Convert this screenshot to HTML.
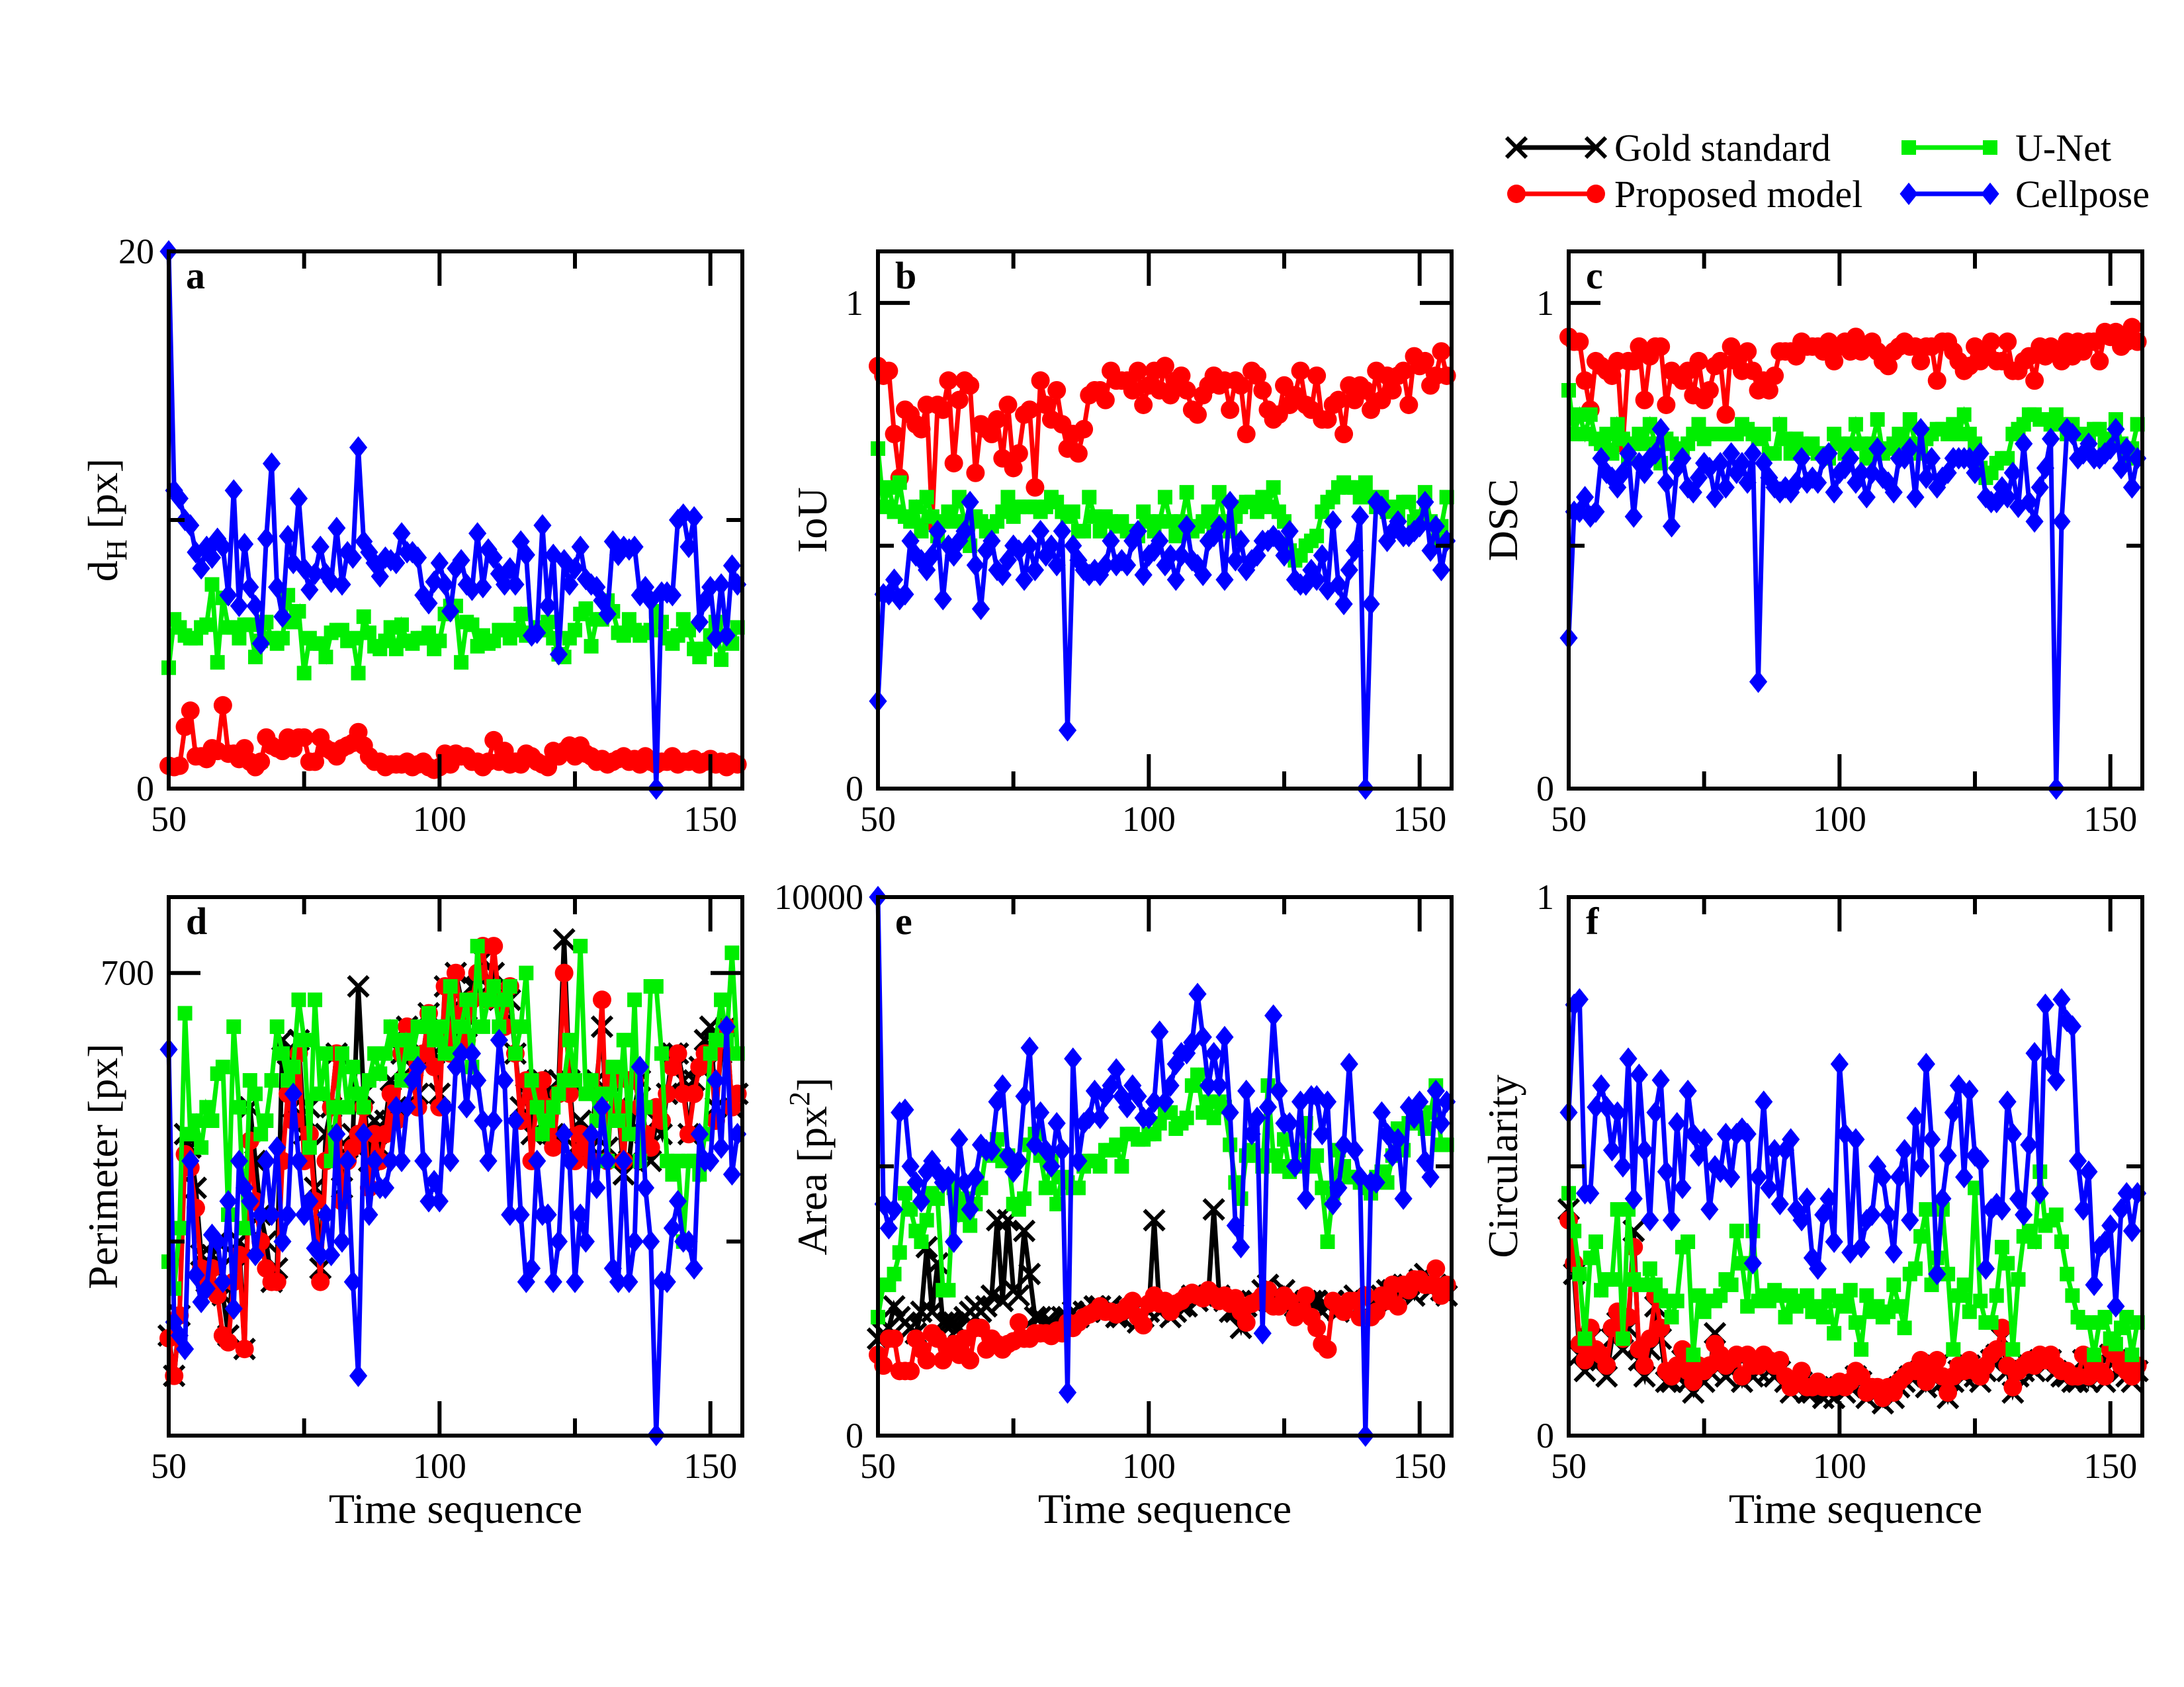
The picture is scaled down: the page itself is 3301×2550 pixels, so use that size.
<!DOCTYPE html>
<html><head><meta charset="utf-8"><style>
html,body{margin:0;padding:0;background:#fff}
svg{display:block}
text{font-family:"Liberation Serif",serif;fill:#000}
</style></head><body>
<svg id="fig" xmlns="http://www.w3.org/2000/svg" width="3301" height="2550" viewBox="0 0 3301 2550">
<rect x="0" y="0" width="3301" height="2550" fill="#fff"/>
<g id="legend"></g>
<g id="panels"></g>
</svg>
<script>
const startT = 50;
const seriesColors = {gold:'#000000', prop:'#ff0000', unet:'#00ee00', cell:'#0000ff'};

const aCell = [20,11.1,10.8,10,9.8,8.8,8.2,9,8.6,9.3, 9,7.2,11.1,6.8,9.1,7.5,6.8,5.4,9.3,12.1, 7.5,6.4,9.4,8.4,10.8,8.2,7.4,8,9,8, 7.7,9.7,7.6,8.8,8.6,12.7,9.2,8.8,8.4,7.9, 8.6,8.5,8.4,9.5,8.8,8.8,8.6,7.2,6.9,7.7, 8.4,7.6,6.6,8.2,8.5,7.6,7.4,9.5,7.5,8.9, 8.6,8,7.6,8.2,7.6,9.2,8.7,5.7,5.8,9.8, 6.8,8.7,5,8.5,7.6,8.2,9,7.8,7.6,7.5, 7,6.5,9.2,8.7,9,8.9,9,7.2,7.5,7, 0,7.3,7.3,7.2,10,10.2,9,10.1,6.2,7, 7.5,5.6,7.6,5.7,8.3,7.6];
const aUnet = [4.5,6.3,6,5.7,5.6,5.6,6,6.1,7.6,4.7, 7.1,6,6,5.6,6.1,6.1,4.9,5.5,6.2,5.6, 5.4,5.6,7.2,6.2,6.6,4.3,5.6,5.4,5.4,4.9, 5.8,5.9,5.9,5.5,5.6,4.3,6.4,5.8,5.3,5.2, 5.5,6,5.2,6.1,5.5,5.4,5.6,5.6,5.8,5.2, 5.5,6.5,6.8,6.8,4.7,6.2,6.1,5.3,5.7,5.4, 5.5,5.9,5.9,5.6,5.9,6.5,5.7,5.8,6,5.9, 6.2,5.6,5,4.9,5.6,5.9,6.5,6.7,5.3,6.3, 6.3,7,6.6,5.8,5.7,6.3,5.9,5.7,5.8,5.9, 6.6,6.2,5.6,5.4,5.7,6.3,5.9,5.2,4.9,5.2, 5.7,6.2,4.8,5.7,5.4,6];
const aProp = [0.85,0.8,0.85,2.3,2.9,1.2,1.2,1.1,1.5,1.4, 3.1,1.3,1.3,1.1,1.5,1,0.8,1,1.9,1.6, 1.5,1.4,1.9,1.5,1.9,1.9,1,1,1.9,1.5, 1.4,1.2,1.5,1.6,1.7,2.1,1.6,1.2,1,1, 0.8,0.9,0.9,0.9,1,0.8,0.9,1,0.8,0.7, 0.8,1.3,0.9,1.3,1.2,1.2,1,1,0.8,1, 1.8,1,1.4,0.9,1,0.9,1.3,1.2,1,0.9, 0.8,1.4,1.2,1.4,1.6,1.2,1.6,1.3,1.2,1, 1.1,0.9,1,1.1,1.2,1,1.1,0.9,1.2,1, 0.9,1,1,1.2,0.9,1,1,1.1,0.9,1, 1.1,0.9,1,0.8,1,0.9];

const bProp = [.87,.85,.86,.73,.64,.78,.77,.75,.74,.79, .55,.79,.78,.84,.67,.80,.84,.83,.65,.75, .74,.73,.76,.68,.79,.66,.69,.77,.78,.62, .84,.79,.76,.82,.75,.70,.73,.69,.74,.81, .82,.82,.80,.86,.84,.84,.84,.82,.86,.79, .83,.86,.82,.87,.81,.84,.85,.82,.78,.77, .81,.83,.85,.83,.84,.78,.84,.83,.73,.86, .85,.82,.78,.76,.77,.83,.79,.81,.86,.79, .78,.85,.76,.76,.79,.80,.73,.83,.80,.83, .82,.78,.86,.80,.85,.82,.85,.86,.79,.89, .87,.88,.83,.85,.90,.85];
const bUnet = [.70,.58,.62,.57,.63,.56,.55,.58,.53,.60, .56,.52,.55,.57,.55,.60,.55,.50,.56,.55, .53,.54,.55,.57,.60,.56,.58,.58,.58,.58, .57,.58,.60,.59,.57,.56,.57,.53,.53,.60, .56,.53,.56,.55,.54,.55,.53,.53,.52,.57, .55,.53,.55,.60,.55,.52,.55,.61,.53,.54, .55,.57,.54,.61,.55,.53,.56,.58,.59,.59, .57,.60,.58,.62,.57,.55,.49,.47,.48,.50, .51,.52,.57,.59,.60,.62,.63,.62,.62,.60, .63,.60,.58,.60,.57,.58,.57,.59,.59,.55, .56,.61,.55,.51,.54,.60];
const bCell = [.18,.40,.40,.43,.39,.40,.51,.48,.47,.45, .48,.53,.39,.50,.48,.51,.53,.59,.46,.37, .49,.51,.45,.44,.47,.50,.49,.43,.50,.45, .53,.48,.50,.46,.53,.12,.50,.47,.45,.44, .45,.44,.46,.51,.46,.47,.46,.51,.53,.44, .48,.49,.51,.46,.48,.43,.48,.54,.47,.46, .44,.51,.52,.54,.43,.59,.47,.51,.45,.47, .48,.51,.51,.52,.51,.48,.53,.43,.42,.42, .45,.43,.48,.41,.55,.42,.38,.45,.49,.56, 0,.38,.59,.58,.51,.53,.55,.52,.52,.53, .54,.59,.49,.54,.45,.51];

const cProp = [.93,.92,.92,.84,.78,.88,.87,.86,.85,.88, .71,.88,.88,.91,.80,.89,.91,.91,.79,.86, .85,.84,.86,.81,.88,.80,.82,.87,.88,.77, .91,.88,.86,.90,.86,.82,.84,.82,.85,.90, .90,.90,.89,.92,.91,.91,.91,.90,.92,.88, .91,.92,.90,.93,.90,.91,.92,.90,.88,.87, .90,.91,.92,.91,.91,.88,.91,.91,.84,.92, .92,.90,.88,.86,.87,.91,.88,.90,.92,.88, .88,.92,.86,.86,.88,.89,.84,.91,.89,.91, .90,.88,.92,.89,.92,.90,.92,.92,.88,.94, .93,.94,.91,.92,.95,.92];
const cUnet = [.82,.73,.77,.73,.77,.72,.71,.73,.69,.75, .72,.68,.71,.73,.71,.75,.71,.67,.72,.71, .69,.70,.71,.73,.75,.72,.73,.73,.73,.73, .73,.73,.75,.74,.73,.72,.73,.69,.69,.75, .72,.69,.72,.71,.70,.71,.69,.69,.68,.73, .71,.69,.71,.75,.71,.68,.71,.76,.69,.70, .71,.73,.70,.76,.71,.69,.72,.73,.74,.74, .73,.75,.73,.77,.73,.71,.66,.64,.65,.67, .68,.68,.73,.74,.75,.77,.77,.76,.76,.75, .77,.75,.73,.75,.73,.73,.73,.74,.74,.71, .72,.76,.71,.68,.70,.75];
const cCell = [.31,.57,.57,.60,.56,.57,.68,.65,.64,.62, .65,.69,.56,.67,.65,.68,.69,.74,.63,.54, .66,.68,.62,.61,.64,.67,.66,.60,.67,.62, .69,.65,.67,.63,.69,.22,.67,.64,.62,.61, .62,.61,.63,.68,.63,.64,.63,.68,.69,.61, .65,.66,.68,.63,.65,.60,.65,.70,.64,.63, .61,.68,.68,.70,.60,.74,.64,.68,.62,.64, .65,.68,.68,.68,.68,.65,.69,.60,.59,.59, .62,.60,.65,.58,.71,.59,.55,.62,.66,.72, 0,.55,.74,.73,.68,.69,.71,.68,.68,.69, .70,.74,.66,.70,.62,.68];

const dGold = [430,400,445,580,570,540,490,470,490,500, 460,430,490,500,420,600,560,520,500,470, 480,650,640,600,650,580,600,540,480,580, 600,640,540,570,580,690,610,560,590,570, 590,620,600,640,660,630,610,640,670,640, 610,690,650,700,680,660,690,690,710,690, 700,680,670,680,640,600,610,580,620,620, 610,580,620,725,620,570,590,570,570,620, 660,570,610,600,550,560,600,620,580,560, 590,580,610,640,640,620,580,620,630,650, 660,600,640,660,600,610];
const dProp = [428,400,445,565,555,525,480,470,480,460, 430,425,470,490,420,575,530,500,480,470, 470,560,610,590,640,560,580,530,470,560, 600,640,530,560,570,580,600,540,580,560, 580,610,590,640,660,620,600,640,670,630, 600,690,640,700,670,650,680,700,720,680, 720,680,660,690,640,590,620,560,610,620, 600,570,610,700,610,560,580,570,560,610, 680,560,620,600,560,620,620,600,580,570, 600,590,610,630,640,610,580,610,630,640, 640,590,650,660,600,610];
const dUnet = [485,465,510,670,580,590,570,600,590,625, 630,520,660,600,510,620,610,580,590,620, 660,640,620,630,680,650,570,680,610,640, 560,600,640,600,630,610,600,620,640,625, 640,660,650,620,650,640,660,660,670,650, 660,640,690,640,660,680,630,720,660,680, 690,660,680,690,640,660,700,620,600,580, 590,600,610,620,650,620,720,610,620,590, 610,560,630,590,650,580,680,560,600,690, 690,640,560,550,560,500,560,560,550,580, 640,650,680,650,715,640];
const dCell = [643,440,430,420,560,475,455,465,505,500, 470,530,450,560,540,530,490,520,560,520, 570,500,520,610,560,520,530,495,490,520, 490,580,500,560,470,400,580,520,560,540, 540,560,600,560,600,620,630,560,530,545, 530,600,560,630,640,600,640,620,590,560, 590,650,620,520,590,520,470,480,560,520, 520,470,500,580,560,470,520,500,580,540, 600,560,480,470,560,470,500,630,540,500, 356,470,470,510,530,500,500,480,580,560, 560,620,570,660,550,580];

const eGold = [1800,1900,2000,2400,2200,2100,2000,1900,2300,3500, 2300,3200,2100,2100,2100,2000,2200,2300,2400,2300, 2400,2600,4000,2500,4000,2700,2600,3800,3000,2200, 2200,2100,2100,2000,2200,2200,2300,2200,2300,2300, 2400,2400,2300,2400,2200,2200,2300,2300,2100,2200, 2300,4000,2300,2400,2200,2300,2400,2400,2600,2500, 2600,2600,4200,2600,2500,2300,2300,2000,2400,2500, 2500,2700,2800,2600,2500,2700,2500,2400,2400,2500, 2500,2500,2300,2400,2500,2300,2400,2500,2600,2400, 2500,2400,2500,2600,2700,2700,2700,2800,2800,2600, 2900,3000,2700,2800,2700,2600];
const eProp = [1500,1300,1800,1800,1200,1200,1200,1800,1600,1400, 1900,1800,1400,1600,1700,1500,1800,1400,2000,2000, 1600,1800,1700,1600,1700,1750,2100,1800,1800,1900, 1900,1900,1850,1950,1900,2100,2000,2100,2200,2250, 2300,2400,2300,2300,2250,2300,2400,2500,2200,2050, 2450,2600,2450,2500,2300,2450,2500,2600,2650,2600, 2550,2700,2600,2500,2600,2450,2550,2300,2100,2450, 2500,2600,2700,2400,2400,2600,2500,2200,2300,2600, 2200,2000,1700,1600,2500,2400,2300,2500,2500,2200, 2600,2200,2300,2600,2500,2800,2400,2800,2700,2900, 2900,2800,2800,3100,2600,2800];
const eUnet = [2200,2800,2800,3000,3400,4500,4200,3800,3600,4000, 4500,4400,2700,2700,4600,4100,4400,3900,4300,4600, 5300,5200,5500,5100,5200,4300,4200,4400,5400,5600, 5200,4600,5100,4300,4800,4700,4600,4600,5000,5100, 5100,5000,5300,5300,5400,5000,5600,5600,5500,5500, 5600,5600,5800,6000,6000,5700,5800,5900,6500,6700, 6000,6200,5900,6200,6100,5400,4700,4400,5200,5300, 5200,5000,6500,5200,5000,5500,4900,5000,5300,5800, 5000,5200,4600,3600,4500,5300,5000,4800,4800,4700, 4600,4500,4800,4900,4700,5200,5700,5300,5800,5800, 5900,5700,6000,6500,5400,5400];
const eCell = [10000,4300,3850,4200,6000,6050,5000,4700,4350,4900, 5100,4900,4700,4800,3600,5500,4700,4200,4800,5400, 5300,5300,6200,6500,5200,4900,5100,6300,7200,5400, 6000,5300,5000,5800,5300,800,7000,5100,5800,5900, 6400,5900,6300,6500,6800,6300,6100,6500,6300,5900, 5900,6200,7500,6200,6500,6900,7100,7100,7300,8200, 7400,6500,7100,6500,7400,6000,3900,3500,6400,5600, 5900,1900,6100,7800,6400,5800,5800,5000,6200,4400, 6300,6300,5600,6200,4300,4600,5400,6900,5300,4800, 0,4700,4700,6000,5600,5200,5500,4400,6100,5900, 6200,5100,4800,6400,5800,6200];

const fGold = [.42,.30,.15,.12,.18,.14,.14,.11,.18,.21, .16,.20,.38,.14,.11,.16,.24,.18,.10,.10, .11,.14,.10,.08,.11,.10,.12,.19,.13,.11, .12,.13,.10,.13,.11,.12,.13,.12,.11,.12, .10,.08,.09,.10,.08,.08,.09,.07,.08,.07, .09,.08,.09,.11,.10,.07,.08,.08,.06,.08, .07,.09,.10,.11,.11,.12,.09,.11,.13,.10, .07,.10,.12,.11,.13,.11,.10,.12,.14,.15, .18,.12,.08,.11,.12,.13,.12,.14,.13,.14, .12,.11,.11,.10,.10,.14,.10,.13,.11,.10, .15,.14,.12,.11,.10,.12];
const fProp = [.40,.32,.17,.14,.20,.16,.15,.13,.20,.23, .18,.22,.35,.16,.13,.18,.26,.20,.12,.11, .13,.16,.12,.10,.13,.12,.13,.17,.15,.13, .14,.15,.11,.15,.13,.13,.15,.14,.13,.14, .11,.09,.10,.12,.09,.09,.10,.09,.09,.09, .10,.09,.10,.12,.11,.08,.09,.09,.07,.09, .08,.10,.11,.12,.12,.14,.10,.12,.14,.11, .08,.11,.13,.12,.14,.12,.11,.13,.15,.16, .20,.13,.09,.12,.13,.14,.13,.15,.14,.15, .13,.12,.12,.11,.11,.15,.11,.14,.12,.11, .16,.15,.13,.12,.11,.13];
const fUnet = [.45,.38,.30,.18,.33,.36,.27,.29,.29,.42, .18,.42,.29,.28,.28,.31,.28,.26,.25,.22, .25,.35,.36,.15,.26,.23,.25,.25,.26,.29, .28,.38,.32,.24,.38,.25,.26,.25,.27,.26, .22,.26,.24,.25,.26,.23,.24,.22,.26,.19, .25,.24,.27,.21,.16,.26,.23,.24,.22,.23, .28,.24,.20,.30,.31,.37,.42,.28,.33,.42, .30,.16,.26,.28,.23,.46,.25,.21,.21,.26, .35,.32,.16,.29,.37,.38,.36,.49,.39,.40, .41,.36,.30,.26,.22,.21,.21,.15,.21,.22, .18,.17,.20,.22,.15,.21];
const fCell = [.60,.80,.81,.45,.45,.61,.65,.61,.53,.60, .50,.70,.44,.67,.53,.40,.60,.66,.49,.40, .58,.46,.64,.56,.52,.55,.42,.50,.49,.56, .48,.56,.57,.56,.32,.48,.62,.46,.53,.43, .53,.55,.42,.40,.44,.33,.31,.41,.44,.36, .69,.56,.34,.55,.35,.40,.41,.50,.48,.41, .34,.48,.53,.40,.59,.50,.69,.55,.30,.44, .52,.60,.65,.48,.64,.52,.51,.31,.42,.43, .42,.62,.56,.44,.41,.54,.71,.45,.80,.69, .66,.81,.77,.76,.51,.42,.49,.28,.35,.36, .39,.24,.42,.45,.38,.45];

const xTickMajor = [50,100,150];
const xTickMinor = [75,125];

const NS = 'http://www.w3.org/2000/svg';
function mk(tag, attrs, parent){const e=document.createElementNS(NS,tag);for(const k in attrs)e.setAttribute(k,attrs[k]);if(parent)parent.appendChild(e);return e;}

const PW = 867;
const R0 = 380, H0 = 812, R1 = 1356, H1 = 814;
const panels = [
 {id:'a', x0:255, y0:R0, h:H0, ymin:0, ymax:20, yMajor:[0,20], yMinor:[10], yLabels:['0','20'], ylabel:'dH', series:[['unet',aUnet],['prop',aProp],['cell',aCell]]},
 {id:'b', x0:1327, y0:R0, h:H0, ymin:0, ymax:1.106, yMajor:[0,1], yMinor:[0.5], yLabels:['0','1'], ylabel:'IoU', series:[['prop',bProp],['unet',bUnet],['cell',bCell]]},
 {id:'c', x0:2371, y0:R0, h:H0, ymin:0, ymax:1.106, yMajor:[0,1], yMinor:[0.5], yLabels:['0','1'], ylabel:'DSC', series:[['prop',cProp],['unet',cUnet],['cell',cCell]]},
 {id:'d', x0:255, y0:R1, h:H1, ymin:355.5, ymax:756.5, yMajor:[700], yMinor:[500], yLabels:['700'], ylabel:'Perimeter [px]', series:[['gold',dGold],['prop',dProp],['unet',dUnet],['cell',dCell]]},
 {id:'e', x0:1327, y0:R1, h:H1, ymin:0, ymax:10000, yMajor:[0,10000], yMinor:[5000], yLabels:['0','10000'], ylabel:'Area', series:[['gold',eGold],['prop',eProp],['unet',eUnet],['cell',eCell]]},
 {id:'f', x0:2371, y0:R1, h:H1, ymin:0, ymax:1, yMajor:[0,1], yMinor:[0.5], yLabels:['0','1'], ylabel:'Circularity', series:[['gold',fGold],['prop',fProp],['unet',fUnet],['cell',fCell]]}
];
const seriesNames = {gold:'gold-standard',prop:'proposed-model',unet:'u-net',cell:'cellpose'};

function marker(kind, x, y, g){
  const c = seriesColors[kind];
  if(kind==='gold'){const s=15;mk('path',{d:`M${x-s},${y-s}L${x+s},${y+s}M${x-s},${y+s}L${x+s},${y-s}`,stroke:c,'stroke-width':6,fill:'none'},g);}
  else if(kind==='prop'){mk('circle',{cx:x,cy:y,r:14,fill:c},g);}
  else if(kind==='unet'){mk('rect',{x:x-11,y:y-11,width:22,height:22,fill:c},g);}
  else {const s=17;mk('path',{d:`M${x},${y-s}L${x+s*0.8},${y}L${x},${y+s}L${x-s*0.8},${y}Z`,fill:c},g);}
}

const root = document.getElementById('panels');
panels.forEach(p=>{
  const g = mk('g',{},root);
  
  
  const xs = t => p.x0 + (t-startT)*(PW/(155.9-50));
  const ys = v => p.y0 + p.h - (v-p.ymin)/(p.ymax-p.ymin)*p.h;
  const bottom = p.y0+p.h, right = p.x0+PW;
  p.series.forEach(([kind,vals])=>{
    const sg = mk('g',{},g);
    
    
    const pts = vals.map((v,i)=>xs(startT+i).toFixed(1)+','+ys(v).toFixed(1)).join(' ');
    mk('polyline',{points:pts,fill:'none',stroke:seriesColors[kind],'stroke-width':7,'stroke-linejoin':'miter'},sg);
    vals.forEach((v,i)=>marker(kind,xs(startT+i),ys(v),sg));
  });
  const fr = mk('rect',{x:p.x0,y:p.y0,width:PW,height:p.h,fill:'none',stroke:'#000','stroke-width':6},g);
  
  
  const tg = mk('g',{stroke:'#000','stroke-width':6},g);
  xTickMajor.forEach(t=>{const x=xs(t);mk('line',{x1:x,y1:bottom,x2:x,y2:bottom-52},tg);mk('line',{x1:x,y1:p.y0,x2:x,y2:p.y0+52},tg);});
  xTickMinor.forEach(t=>{const x=xs(t);mk('line',{x1:x,y1:bottom,x2:x,y2:bottom-26},tg);mk('line',{x1:x,y1:p.y0,x2:x,y2:p.y0+26},tg);});
  p.yMajor.forEach(v=>{const y=ys(v);mk('line',{x1:p.x0,y1:y,x2:p.x0+48,y2:y},tg);mk('line',{x1:right,y1:y,x2:right-48,y2:y},tg);});
  p.yMinor.forEach(v=>{const y=ys(v);mk('line',{x1:p.x0,y1:y,x2:p.x0+24,y2:y},tg);mk('line',{x1:right,y1:y,x2:right-24,y2:y},tg);});
  xTickMajor.forEach(t=>{
    const tx = mk('text',{x:xs(t),y:bottom+64,'font-size':54,'text-anchor':'middle'},g);
    tx.textContent = String(t);
    
    
  });
  p.yMajor.forEach((v,i)=>{
    const ty = mk('text',{x:p.x0-22,y:ys(v)+18,'font-size':54,'text-anchor':'end'},g);
    ty.textContent = p.yLabels[i];
    
    
  });
  const pl = mk('text',{x:p.x0+26,y:p.y0+56,'font-size':58,'font-weight':'bold'},g);
  pl.textContent = p.id;
  
  
  const cy = p.y0 + p.h/2;
  const cx = p.x0 - 78;
  const yt = mk('text',{x:cx,y:cy,'font-size':64,'text-anchor':'middle',transform:`rotate(-90 ${cx} ${cy})`},g);
  
  
  if(p.ylabel==='dH'){
    yt.appendChild(document.createTextNode('d'));
    const s=mk('tspan',{'font-size':44,dy:14},yt);s.textContent='H';
    const r=mk('tspan',{dy:-14},yt);r.textContent=' [px]';
  } else if(p.ylabel==='Area'){
    yt.appendChild(document.createTextNode('Area [px'));
    const s=mk('tspan',{'font-size':44,dy:-26},yt);s.textContent='2';
    const r=mk('tspan',{dy:26},yt);r.textContent=']';
  } else yt.textContent = p.ylabel;
  if(p.y0>1000){
    const xt = mk('text',{x:p.x0+PW/2,y:2302,'font-size':64,'text-anchor':'middle'},g);
    xt.textContent='Time sequence';
    
    
  }
});

const lg = document.getElementById('legend');
const legendItems = [['gold','Gold standard',2292,2412,223,2440],['prop','Proposed model',2292,2412,293,2440],['unet','U-Net',2885,3008,223,3046],['cell','Cellpose',2885,3008,293,3046]];
legendItems.forEach(([kind,label,x1,x2,y,tx])=>{
  const eg = mk('g',{},lg);
  
  
  mk('line',{x1:x1,y1:y,x2:x2,y2:y,stroke:seriesColors[kind],'stroke-width':7},eg);
  marker(kind,x1,y,eg);marker(kind,x2,y,eg);
  const t = mk('text',{x:tx,y:y+20,'font-size':58},eg);
  t.textContent = label;
});
</script>
</body></html>
